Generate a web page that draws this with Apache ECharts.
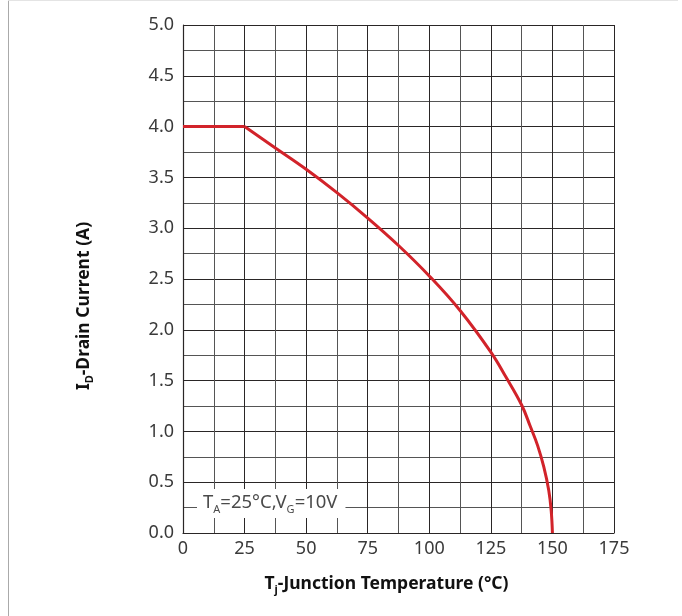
<!DOCTYPE html>
<html>
<head>
<meta charset="utf-8">
<title>Drain Current vs Junction Temperature</title>
<script src="https://cdn.jsdelivr.net/npm/echarts@6/dist/echarts.min.js"></script>
<style>
  html, body { margin: 0; padding: 0; background: #fff; }
  #chart { width: 682px; height: 616px; }
</style>
</head>
<body>
<div id="chart"></div>
<script>
// Flat current limit up to 25 °C
const plateauTemp = [0, 25];
const plateauCurrent = [4.0, 4.0];

// Derating curve above 25 °C
const curveTemp = [25, 37.5, 50, 62.5, 75, 87.5, 100, 112.5, 125, 131.25, 137.5, 141, 144, 146.5, 148.5, 149.5, 150];
const curveCurrent = [4.0, 3.79, 3.58, 3.35, 3.10, 2.83, 2.53, 2.19, 1.78, 1.53, 1.26, 1.05, 0.86, 0.65, 0.42, 0.22, 0.0];

// Axis ranges and tick spacing
const xTicks = { min: 0, max: 175, step: 25 };
const yTicks = { min: 0, max: 5, step: 0.5 };

const pairs = (xs, ys) => xs.map((x, i) => [x, ys[i]]);

const labelFont = 'Noto Sans';
const gridColor = '#2a2626';
const curveColor = '#d2232a';

const chart = echarts.init(document.getElementById('chart'), null, { renderer: 'canvas' });

chart.setOption({
  animation: false,
  backgroundColor: '#fff',
  grid: { left: 183, top: 25, width: 431, height: 508, containLabel: false },
  xAxis: {
    type: 'value',
    min: xTicks.min, max: xTicks.max, interval: xTicks.step,
    axisLine: { show: true, lineStyle: { color: gridColor, width: 1.2 } },
    axisTick: { show: false },
    axisLabel: { color: '#3a3a3a', fontSize: 18, fontFamily: labelFont, margin: 7 },
    splitLine: { show: true, lineStyle: { color: gridColor, width: 1 } },
    minorTick: { show: false, splitNumber: 2 },
    minorSplitLine: { show: true, lineStyle: { color: '#555', width: 1 } },
    name: '{b|T}{s|j}{b|-Junction Temperature (°C)}',
    nameLocation: 'middle',
    nameGap: 41,
    nameTextStyle: {
      padding: [0, 24, 0, 0],
      rich: {
        b: { fontSize: 17.5, fontWeight: 'bold', fontFamily: labelFont, color: '#111' },
        s: { fontSize: 11, fontWeight: 'bold', fontFamily: labelFont, color: '#111', padding: [10, 0, 0, 0] }
      }
    }
  },
  yAxis: {
    type: 'value',
    min: yTicks.min, max: yTicks.max, interval: yTicks.step,
    axisLine: { show: true, lineStyle: { color: gridColor, width: 1.2 } },
    axisTick: { show: false },
    axisLabel: {
      color: '#3a3a3a', fontSize: 18, fontFamily: labelFont, margin: 9,
      formatter: v => v.toFixed(1)
    },
    splitLine: { show: true, lineStyle: { color: gridColor, width: 1 } },
    minorTick: { show: false, splitNumber: 2 },
    minorSplitLine: { show: true, lineStyle: { color: '#555', width: 1 } },
    name: '{b|I}{s|D}{b|-Drain Current (A)}',
    nameLocation: 'middle',
    nameRotate: 90,
    nameGap: 88,
    nameTextStyle: {
      padding: [0, 54, 0, 0],
      rich: {
        b: { fontSize: 17.5, fontWeight: 'bold', fontFamily: labelFont, color: '#111' },
        s: { fontSize: 11, fontWeight: 'bold', fontFamily: labelFont, color: '#111', padding: [10, 0, 0, 0] }
      }
    }
  },
  series: [
    {
      name: 'plateau',
      type: 'line',
      data: pairs(plateauTemp, plateauCurrent),
      showSymbol: false,
      lineStyle: { color: curveColor, width: 3 },
      z: 5
    },
    {
      name: 'derating',
      type: 'line',
      data: pairs(curveTemp, curveCurrent),
      smooth: 0.4,
      showSymbol: false,
      lineStyle: { color: curveColor, width: 3 },
      z: 5
    }
  ],
  graphic: [
    {
      type: 'text',
      left: 197,
      top: 489,
      z: 100,
      style: {
        text: '{n|T}{s|A}{n|=25°C,V}{s|G}{n|=10V}',
        backgroundColor: '#fff',
        padding: [2, 8, 3, 6],
        rich: {
          n: { fontSize: 18.5, fontFamily: labelFont, fill: '#4a4a4a' },
          s: { fontSize: 11, fontFamily: labelFont, fill: '#4a4a4a', padding: [13, 0, 0, 0] }
        }
      }
    },
    {
      type: 'line',
      z: 100,
      shape: { x1: 8.5, y1: 0, x2: 8.5, y2: 616 },
      style: { stroke: '#aaa', lineWidth: 1 }
    },
    {
      type: 'line',
      z: 100,
      shape: { x1: 8, y1: 0.5, x2: 678, y2: 0.5 },
      style: { stroke: '#e4e4e4', lineWidth: 1 }
    }
  ]
});
</script>
</body>
</html>
